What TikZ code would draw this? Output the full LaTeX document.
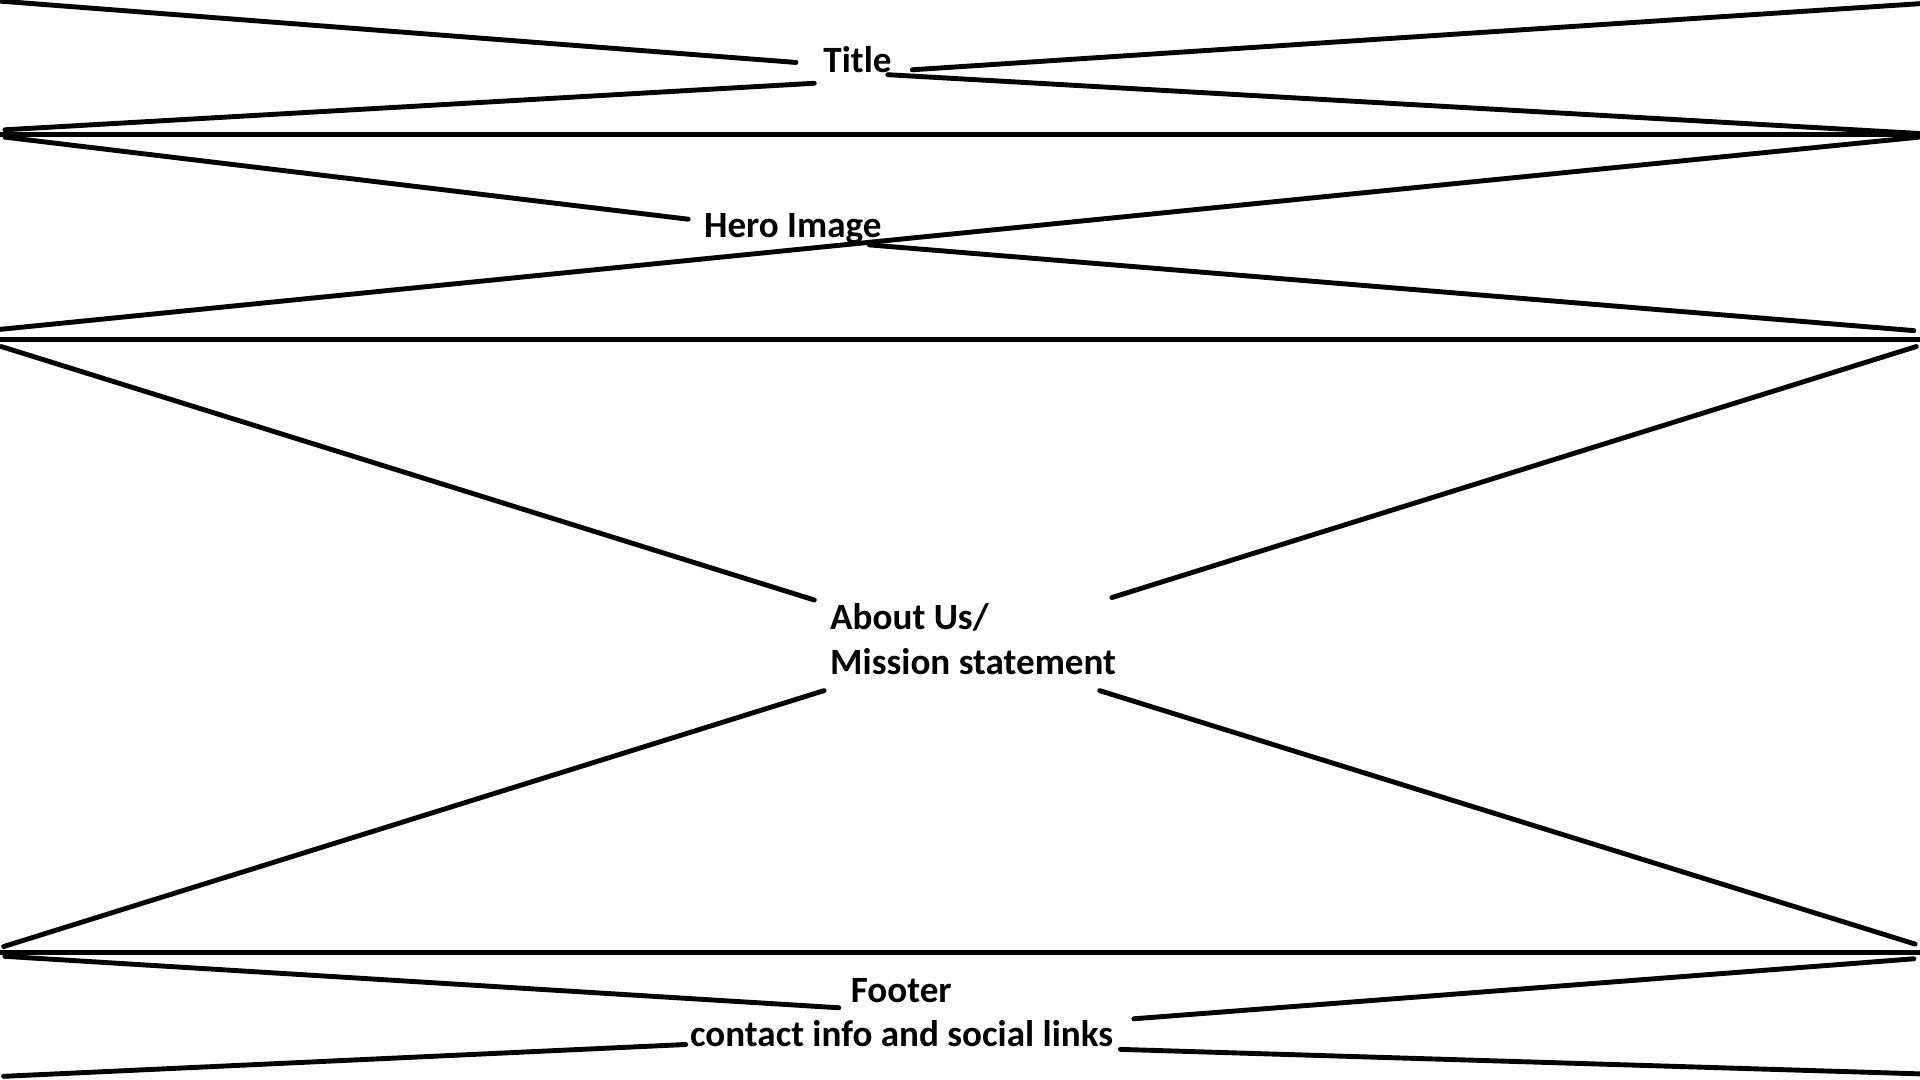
\documentclass[tikz,border=0pt]{standalone}
\usepackage{fontspec}
\setmainfont{Carlito}
\begin{document}
\begin{tikzpicture}[x=1pt,y=-1pt,
  wire/.style={line width=4pt,line cap=round,black},
  sep/.style={line width=4.1pt,black},
  lbl/.style={inner sep=0pt,outer sep=0pt,font=\fontsize{30.3}{36.5}\selectfont\bfseries}]
\useasboundingbox[fill=white] (0,0) rectangle (1568,882);
% labels
\node[lbl,anchor=base west] (title) at (672.5,59) {Title};
\node[lbl,anchor=base west] (hero) at (575,194) {Hero Image};
\node[lbl,anchor=base west] (about1) at (678,514) {About Us/};
\node[lbl,anchor=base west] (about2) at (678,550.5) {Mission statement};
\node[lbl,anchor=base] (foot1) at (736,819) {Footer};
\node[lbl,anchor=base west] (foot2) at (563.5,854.5) {contact info and social links};
% separators
\coordinate (h1l) at (0,110); \coordinate (h1r) at (1568,110);
\coordinate (h2l) at (0,277); \coordinate (h2r) at (1568,277);
\coordinate (h3l) at (0,778); \coordinate (h3r) at (1568,778);
\draw[sep] (h1l) -- (h1r);
\draw[sep] (h2l) -- (h2r);
\draw[sep] (h3l) -- (h3r);
% title section
\coordinate (t1a) at (1,1);      \coordinate (t1b) at (650,51);
\coordinate (t2a) at (4,106);    \coordinate (t2b) at (665,68);
\coordinate (t3a) at (745,57);   \coordinate (t3b) at (1568,3);
\coordinate (t4a) at (725,61);   \coordinate (t4b) at (1567,109);
\draw[wire] (t1a) -- (t1b);
\draw[wire] (t2a) -- (t2b);
\draw[wire] (t3a) -- (t3b);
\draw[wire] (t4a) -- (t4b);
% hero section
\coordinate (e1a) at (4,112);    \coordinate (e1b) at (562,179);
\coordinate (e2a) at (0,269);    \coordinate (e2b) at (1567,112);
\coordinate (e3a) at (710,200);  \coordinate (e3b) at (1563,270);
\draw[wire] (e1a) -- (e1b);
\draw[wire] (e2a) -- (e2b);
\draw[wire] (e3a) -- (e3b);
% about section
\coordinate (a1a) at (1,283);    \coordinate (a1b) at (665,490);
\coordinate (a2a) at (908,488);  \coordinate (a2b) at (1565,283);
\coordinate (a3a) at (673,564);  \coordinate (a3b) at (3,773);
\coordinate (a4a) at (898,564);  \coordinate (a4b) at (1564,771);
\draw[wire] (a1a) -- (a1b);
\draw[wire] (a2a) -- (a2b);
\draw[wire] (a3a) -- (a3b);
\draw[wire] (a4a) -- (a4b);
% footer section
\coordinate (f1a) at (4,781);    \coordinate (f1b) at (685,823);
\coordinate (f2a) at (3,879);    \coordinate (f2b) at (560,853);
\coordinate (f3a) at (926,832);  \coordinate (f3b) at (1563,783);
\coordinate (f4a) at (915,857);  \coordinate (f4b) at (1568,877);
\draw[wire] (f1a) -- (f1b);
\draw[wire] (f2a) -- (f2b);
\draw[wire] (f3a) -- (f3b);
\draw[wire] (f4a) -- (f4b);
\end{tikzpicture}
\end{document}
